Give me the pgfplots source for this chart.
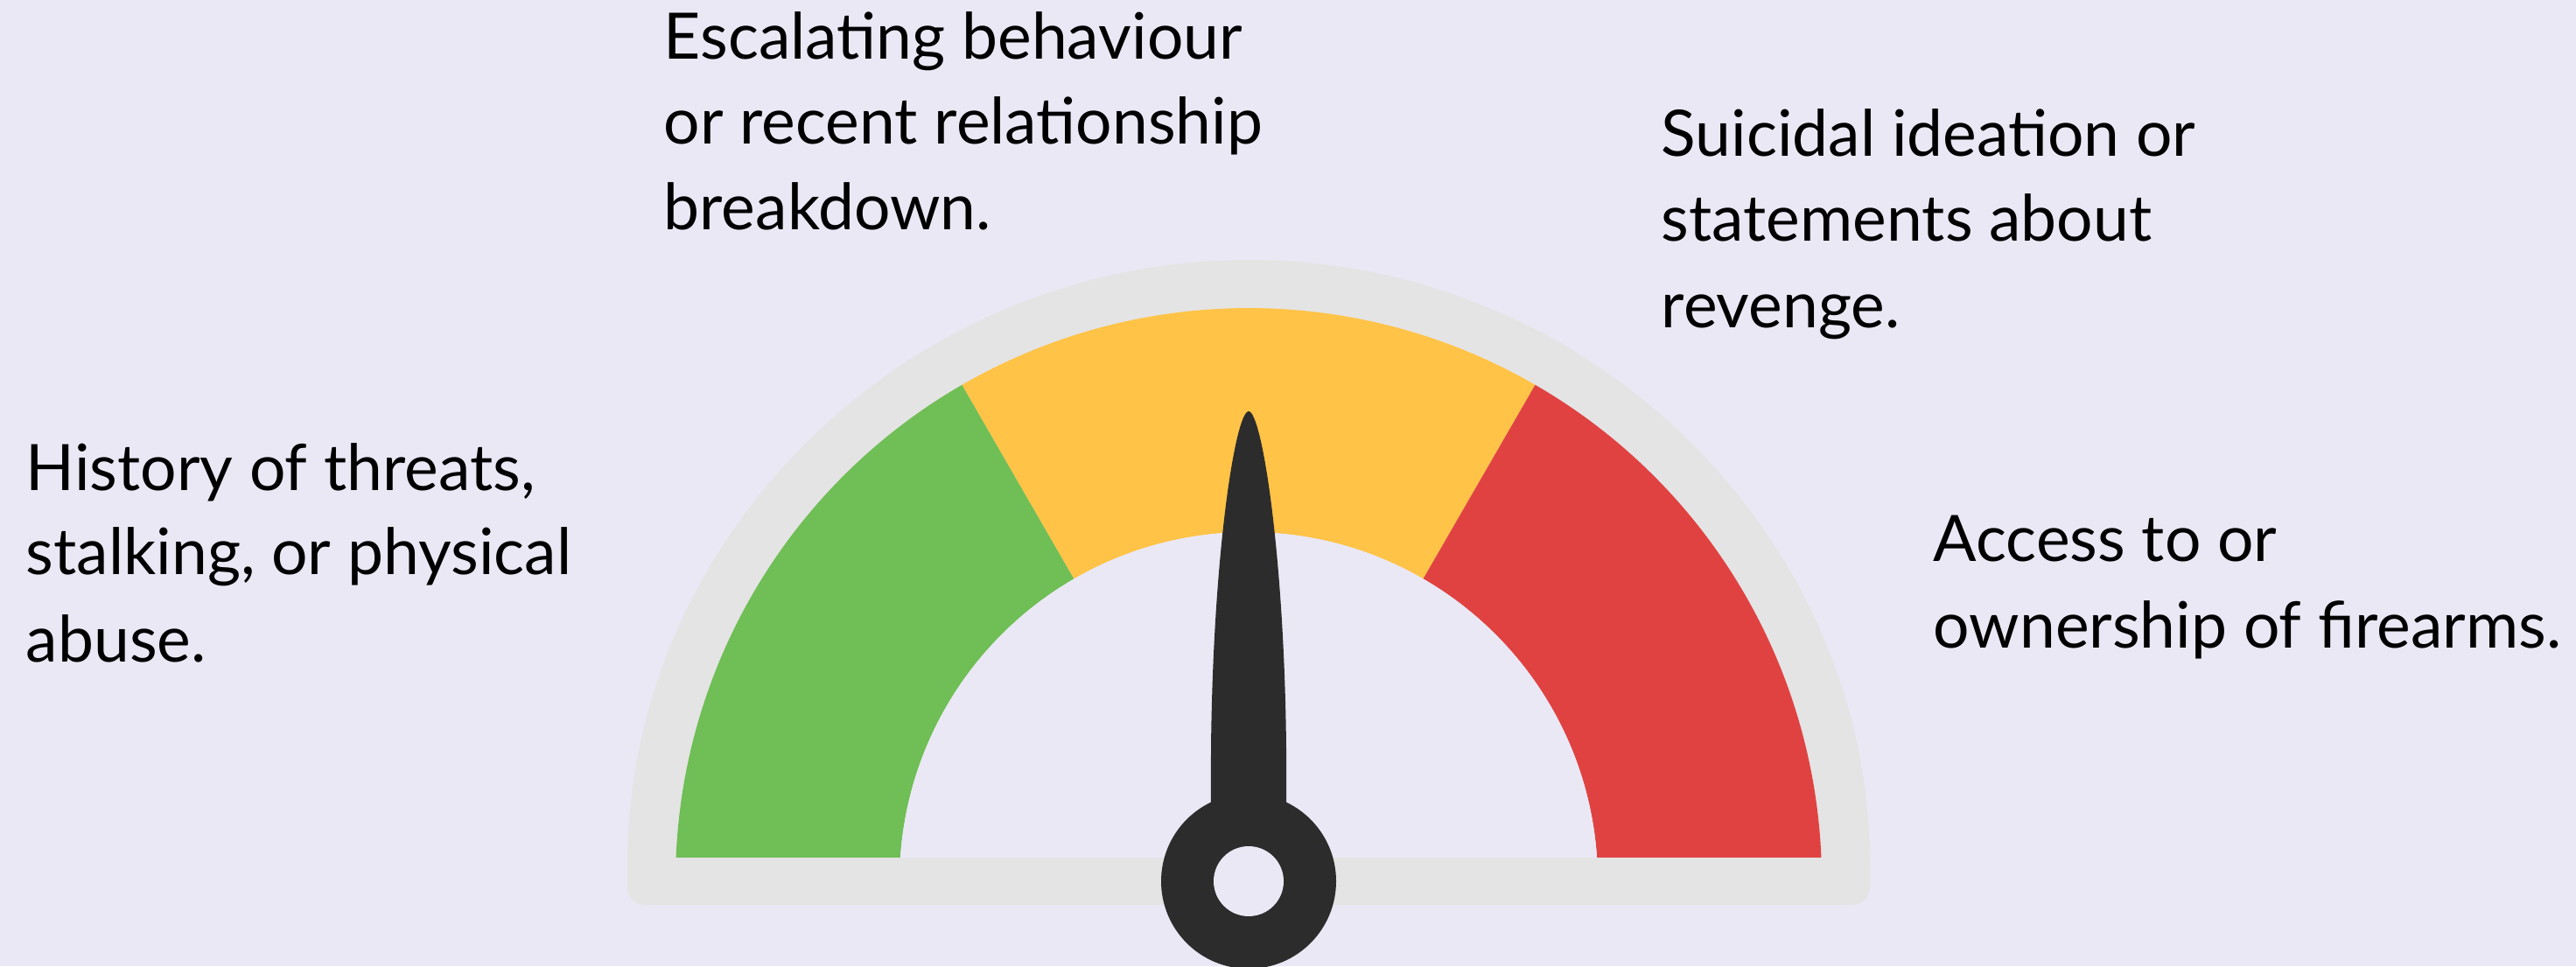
\documentclass[border=0pt]{standalone}
\usepackage{pgfplots}
\pgfplotsset{compat=1.18}
\usepackage{fontspec}
\setmainfont{Lato}
\definecolor{bg}{HTML}{EAE8F5}
\definecolor{gframe}{HTML}{E4E4E4}
\definecolor{ggreen}{HTML}{70BE56}
\definecolor{gyellow}{HTML}{FFC347}
\definecolor{gred}{HTML}{E04242}
\definecolor{needle}{HTML}{2C2C2C}
\begin{document}
\begin{tikzpicture}
\begin{axis}[name=ax, at={(0,0)}, anchor=south west, scale only axis,
  width=736pt, height=276pt, xmin=0, xmax=2944, ymin=0, ymax=1104,
  hide axis, disabledatascaling, clip=true]
% background
\fill[bg] (axis cs:0,0) rectangle (axis cs:2944,1104);
% gray frame (D shape)
\fill[gframe, rounded corners=5pt] (axis cs:717,97) arc[start angle=180, end angle=0, radius=710]
  -- (axis cs:2137,70) -- (axis cs:717,70) -- cycle;
\begin{scope}
\clip (axis cs:0,125) rectangle (axis cs:2944,1104);
% three equal risk bands: 180-120, 120-60, 60-0 degrees
\fill[ggreen] (axis cs:772,97) arc[start angle=180, end angle=120, radius=655]
  -- (axis cs:1227.5,442.5) arc[start angle=120, end angle=180, radius=399] -- cycle;
\fill[gyellow] (axis cs:1099.5,664.2) arc[start angle=120, end angle=60, radius=655]
  -- (axis cs:1626.5,442.5) arc[start angle=60, end angle=120, radius=399] -- cycle;
\fill[gred] (axis cs:1754.5,664.2) arc[start angle=60, end angle=0, radius=655]
  -- (axis cs:1826,97) arc[start angle=0, end angle=60, radius=399] -- cycle;
\fill[bg] (axis cs:1028,97) arc[start angle=180, end angle=0, radius=399] -- cycle;
\end{scope}
% needle pointing at 90 degrees
\fill[needle] (axis cs:1383.5,97) -- (axis cs:1384,247)
  .. controls (axis cs:1386,470) and (axis cs:1412,634) .. (axis cs:1427,634)
  .. controls (axis cs:1442,634) and (axis cs:1468,470) .. (axis cs:1470,247)
  -- (axis cs:1470.5,97) -- cycle;
\fill[needle] (axis cs:1427,97) circle[radius=100];
\fill[bg] (axis cs:1427,97) circle[radius=40];
% labels
\tikzset{lbl/.style={anchor=base west, inner sep=0pt, text=black, font=\fontsize{18.3}{20}\selectfont}}
\node[lbl] at (axis cs:758,1036) {Escalating behaviour};
\node[lbl] at (axis cs:758,939) {or recent relationship};
\node[lbl] at (axis cs:758,841) {breakdown.};
\node[lbl] at (axis cs:1898,925) {Suicidal ideation or};
\node[lbl] at (axis cs:1898,828) {statements about};
\node[lbl] at (axis cs:1898,729) {revenge.};
\node[lbl] at (axis cs:29,543) {History of threats,};
\node[lbl] at (axis cs:29,447) {stalking, or physical};
\node[lbl] at (axis cs:29,348) {abuse.};
\node[lbl] at (axis cs:2209,462) {Access to or};
\node[lbl] at (axis cs:2209,364) {ownership of firearms.};
\end{axis}
\pgfresetboundingbox
\useasboundingbox (ax.south west) rectangle (ax.north east);
\end{tikzpicture}
\end{document}
